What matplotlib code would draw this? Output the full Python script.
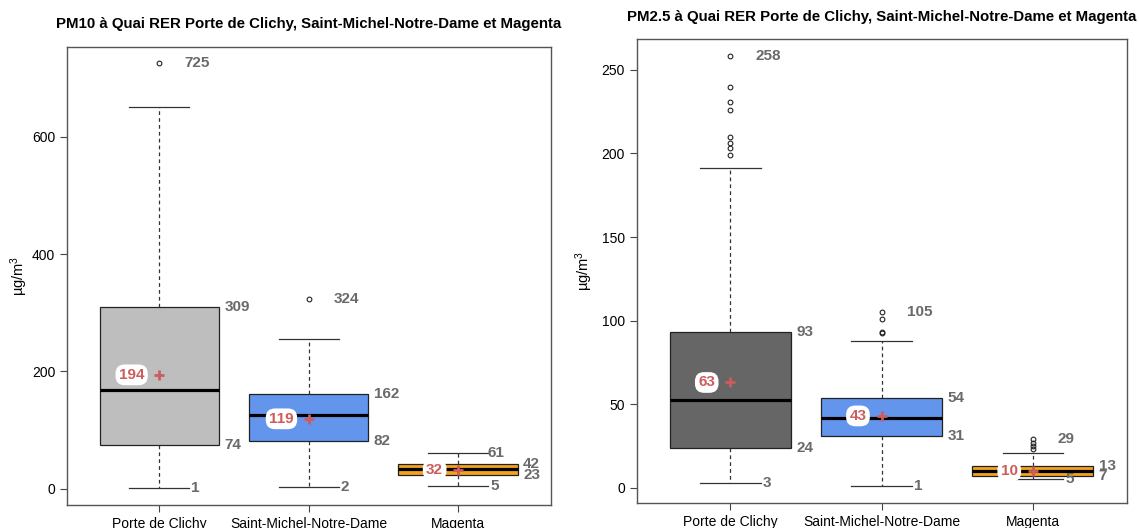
import matplotlib
matplotlib.use("Agg")
import matplotlib.pyplot as plt

plt.rcParams['font.family'] = ['Liberation Sans', 'DejaVu Sans']
plt.rcParams['mathtext.fontset'] = 'custom'
plt.rcParams['mathtext.rm'] = 'Liberation Sans'
plt.rcParams['mathtext.default'] = 'regular'

categories = ["Porte de Clichy", "Saint-Michel-Notre-Dame", "Magenta"]

# PM10
pm10_title = "PM10 à Quai RER Porte de Clichy, Saint-Michel-Notre-Dame et Magenta"
pm10_whislo = [1, 2, 5]
pm10_q1 = [74, 82, 23]
pm10_med = [168, 126, 33]
pm10_q3 = [309, 162, 42]
pm10_whishi = [651, 255, 61]
pm10_mean = [194, 119, 32]
pm10_fliers = [[725], [324], []]
pm10_yticks = [0, 200, 400, 600]
pm10_colors = ["#BEBEBE", "#6495ED", "#F5A31E"]

# PM2.5
pm25_title = "PM2.5 à Quai RER Porte de Clichy, Saint-Michel-Notre-Dame et Magenta"
pm25_whislo = [3, 1, 5]
pm25_q1 = [24, 31, 7]
pm25_med = [52.6, 42, 9.8]
pm25_q3 = [93, 54, 13]
pm25_whishi = [191, 88, 21]
pm25_mean = [63, 43, 10]
pm25_fliers = [[258, 240, 231, 226, 210, 206, 203, 199],
               [105, 101, 93, 92.5],
               [29, 27, 25, 23.5]]
pm25_yticks = [0, 50, 100, 150, 200, 250]
pm25_colors = ["#666666", "#6495ED", "#F5A31E"]

VAL_COLOR = "#6A6A6A"
MEAN_COLOR = "#CD5C5C"
EDGE = "#222222"
W, H = 1139, 528


def panel(ax, title, whislo, q1, med, q3, whishi, mean, fliers, yticks, colors):
    pos = [1, 2, 3]
    stats = []
    for i in range(3):
        stats.append(dict(med=med[i], q1=q1[i], q3=q3[i], whislo=whislo[i],
                          whishi=whishi[i], fliers=fliers[i], label=categories[i]))
    bp = ax.bxp(stats, positions=pos, widths=0.8, capwidths=0.4, patch_artist=True,
                showfliers=True,
                boxprops=dict(edgecolor=EDGE, linewidth=0.9),
                whiskerprops=dict(color="#333333", linewidth=0.9, linestyle=(0, (3, 2.5))),
                capprops=dict(color="#333333", linewidth=0.9),
                medianprops=dict(color="black", linewidth=2.3, solid_capstyle='butt'),
                flierprops=dict(marker='o', markersize=3.4, markerfacecolor='none',
                                markeredgecolor='#222222', markeredgewidth=0.8))
    for patch, c in zip(bp['boxes'], colors):
        patch.set_facecolor(c)

    allv = [v for v in whislo + whishi] + [v for f in fliers for v in f]
    lo, hi = min(allv), max(allv)
    pad = 0.04 * (hi - lo)
    ax.set_ylim(lo - pad, hi + pad)
    ax.set_xlim(0.38, 3.62)

    fs = 11
    for i, x in enumerate(pos):
        top = max(fliers[i]) if fliers[i] else whishi[i]
        if fliers[i]:
            ax.text(x + 0.165, top, f"{round(top)}", ha='left', va='center',
                    fontsize=fs, fontweight='bold', color=VAL_COLOR)
        else:
            ax.text(x + 0.2, top, f"{round(top)}", ha='left', va='center',
                    fontsize=fs, fontweight='bold', color=VAL_COLOR)
        ax.text(x + 0.215, whislo[i], f"{round(whislo[i])}", ha='left', va='center',
                fontsize=fs, fontweight='bold', color=VAL_COLOR)
        ax.text(x + 0.435, q3[i], f"{round(q3[i])}", ha='left', va='center',
                fontsize=fs, fontweight='bold', color=VAL_COLOR)
        ax.text(x + 0.435, q1[i], f"{round(q1[i])}", ha='left', va='center',
                fontsize=fs, fontweight='bold', color=VAL_COLOR)
        ax.text(x - 0.1, mean[i], f"{round(mean[i])}", ha='right', va='center',
                fontsize=fs, fontweight='bold', color=MEAN_COLOR, zorder=6,
                bbox=dict(boxstyle='round,pad=0.22,rounding_size=0.6', facecolor='white',
                          edgecolor='none'))
    ax.plot(pos, mean, linestyle='none', marker='+', markersize=7.5, markeredgewidth=2,
            color=MEAN_COLOR, zorder=7)

    ax.set_xticks(pos)
    ax.set_xticklabels(categories, fontsize=10)
    ax.set_yticks(yticks)
    ax.set_yticklabels([str(t) for t in yticks], fontsize=10)
    ax.tick_params(axis='both', length=4.8, width=0.8, color='#444444', pad=3.5)
    for s in ax.spines.values():
        s.set_color('#555555')
        s.set_linewidth(1.0)
    ax.set_title(title, fontsize=10.8, fontweight='bold', pad=13)


fig = plt.figure(figsize=(W / 100, H / 100), dpi=100)
ax1 = fig.add_axes([66.7 / W, (H - 505) / H, 484 / W, (505 - 46.5) / H])
ax2 = fig.add_axes([636.5 / W, (H - 503.3) / H, 490.2 / W, (503.3 - 39.3) / H])

panel(ax1, pm10_title, pm10_whislo, pm10_q1, pm10_med, pm10_q3, pm10_whishi,
      pm10_mean, pm10_fliers, pm10_yticks, pm10_colors)
panel(ax2, pm25_title, pm25_whislo, pm25_q1, pm25_med, pm25_q3, pm25_whishi,
      pm25_mean, pm25_fliers, pm25_yticks, pm25_colors)

ax1.text((19 - 66.7) / 484, 0.5, "µg/m$^3$", rotation=90, ha='center', va='center',
         fontsize=10.5, transform=ax1.transAxes)
ax2.text((584 - 636.5) / 490.2, 0.5, "µg/m$^3$", rotation=90, ha='center', va='center',
         fontsize=10.5, transform=ax2.transAxes)

fig.savefig("out.png", dpi=100)
